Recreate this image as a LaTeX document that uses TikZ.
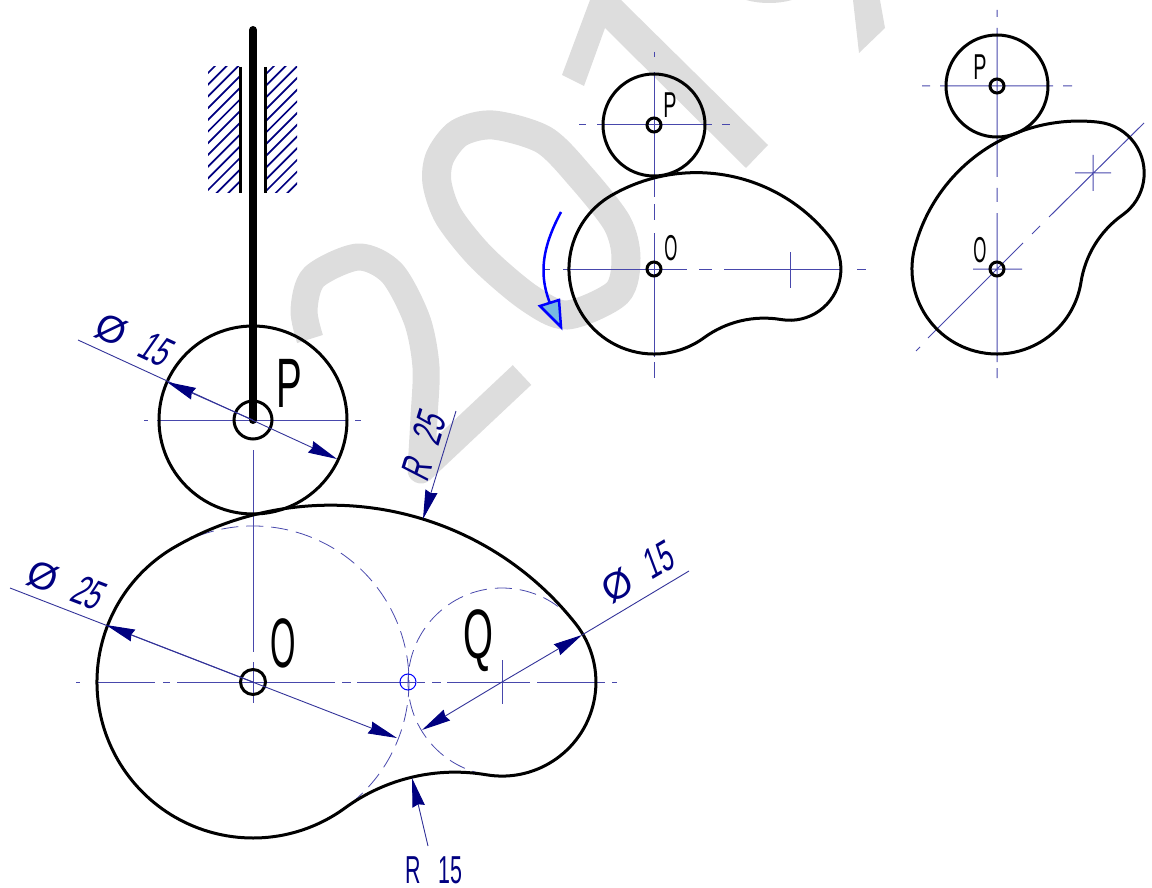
\documentclass[tikz,border=0pt]{standalone}
\usepackage{fontspec}
\setmainfont[FakeStretch=.55]{Liberation Sans}
\newfontfamily\dimfont[FakeStretch=.62,FakeSlant=.18]{Liberation Sans}
\newfontfamily\diafont{Liberation Sans}
\usetikzlibrary{arrows.meta}
\definecolor{markgray}{HTML}{DDDDDD}
\definecolor{linenavy}{RGB}{0,0,128}
\definecolor{centreblue}{RGB}{72,72,172}
\definecolor{headfill}{RGB}{120,185,225}

\newcommand{\camoutline}{
  (120:156pt) arc[start angle=120,end angle=306.1,radius=156pt]
              arc[start angle=126.1,end angle=80.4,radius=187pt]
              arc[start angle=260.4,end angle=398.3,radius=94pt]
              arc[start angle=38.3,end angle=120,radius=312pt] -- cycle}
\newcommand{\dia}{{\diafont\fontsize{38}{38}\selectfont Ø}\hspace{.4em}}

\begin{document}
\begin{tikzpicture}[x=1pt,y=-1pt,
    outline/.style={draw=black,line width=3pt},
    centre/.style={draw=centreblue,line width=1pt},
    hidden/.style={draw=centreblue,line width=.8pt,dash pattern=on 17pt off 8pt},
    dimline/.style={draw=linenavy!80!white,line width=.9pt},
    dimarrow/.style={dimline,-{Stealth[length=29pt,width=12.5pt,inset=2pt,color=linenavy]}},
    hatchline/.style={draw=linenavy,line width=1.7pt},
    partname/.style={font=\fontsize{70}{70}\selectfont,text=black,inner sep=0pt},
    smallname/.style={font=\fontsize{36}{36}\selectfont,text=black,inner sep=0pt},
    dimtext/.style={font=\dimfont\fontsize{42}{42}\selectfont,text=linenavy,inner sep=0pt}]
  \useasboundingbox (0,0) rectangle (1152,888);

  % watermark
  \draw[markgray,line width=27pt,line join=round] plot[smooth] coordinates
    {(310,339) (304,310) (314,277) (358,257) (392,273) (417,320) (426,367) (424,417) (421,470)}
    -- (522,375);
  \draw[markgray,line width=29pt] plot[smooth cycle] coordinates
    {(437,183) (449,217) (482,258) (529,298) (567,315) (617,293) (626,258) (617,223)
     (581,177) (544,140) (493,125) (459,133) (440,157)};
  \fill[markgray] (562,75) -- (590,0) -- (621,0) -- (768,145) -- (746,168) -- (605,28) -- (584,86) -- cycle;
  \fill[markgray] (853,0) -- (880,0) -- (885,28) -- (859,53) -- cycle;
  \fill[markgray] (746,0) .. controls (760,4) and (778,4) .. (792,0) -- cycle;

  % guide
  \begin{scope}
    \clip (208,67) rectangle (240,193);
    \foreach \k in {0,...,13}
      \draw[hatchline] ({281+11.7*\k-200},200) -- ({281+11.7*\k},0);
  \end{scope}
  \begin{scope}
    \clip (265,67) rectangle (297,193);
    \foreach \k in {0,...,13}
      \draw[hatchline] ({340+11.7*\k-200},200) -- ({340+11.7*\k},0);
  \end{scope}
  \draw[black,line width=3pt] (240,67) -- (240,193) (265,67) -- (265,193);

  % main view
  \coordinate (O) at (253,682);
  \coordinate (Q) at (502,682);
  \coordinate (P) at (253,420);
  \coordinate (T) at (408,682);

  \draw[centre] (76,682) -- (80,682) (96,682) -- (155,682) (163,682) -- (170,682)
    (177,682) -- (335,682) (342,682) -- (351,682) (357,682) -- (416,682)
    (417,682) -- (425,682) (432,682) -- (441,682) (447,682) -- (530,682)
    (537,682) -- (605,682) (612,682) -- (617,682)
    (253,450) -- (253,652) (253,662) -- (253,703) (502,660) -- (502,704)
    (408,672) -- (408,682)
    (144,420) -- (148,420) (157,420) -- (347,420) (355,420) -- (361,420);
  \draw[hidden] (O) ++(120:156pt) arc[start angle=120,end angle=-53.9,radius=156pt];
  \draw[hidden] (Q) ++(38.3:94pt) arc[start angle=38.3,end angle=260.4,radius=94pt];
  \draw[blue,line width=1pt] (T) circle[radius=8pt];

  \begin{scope}[shift={(O)}]
    \draw[outline] \camoutline;
  \end{scope}
  \draw[outline] (P) circle[radius=94pt];
  \draw[outline] (P) circle[radius=19pt];
  \draw[outline] (O) circle[radius=12.5pt];
  \draw[black,line width=8pt,line cap=round] (253,30) -- (P);

  \node[partname] (labelP) at (289,383) {P};
  \node[partname,xscale=.85] (labelO) at (283,643) {O};
  \node[partname] (labelQ) at (478,641) {Q};

  % dimensions
  \coordinate (pfar) at (78,340);
  \coordinate (ptip) at (167,382);
  \coordinate (pend) at (337,459);
  \draw[dimarrow] (pfar) -- (pend);
  \draw[dimarrow] (P) -- (ptip);
  \node[dimtext,rotate=-24.7] (dimP) at (133,339) {\dia 15};

  \coordinate (ofar) at (10,588);
  \coordinate (otip) at (106,625);
  \coordinate (oend) at (397,738);
  \draw[dimarrow] (ofar) -- (oend);
  \draw[dimarrow] (O) -- (otip);
  \node[dimtext,rotate=-21] (dimO) at (65,584) {\dia 25};

  \coordinate (qfar) at (689,571);
  \coordinate (qtip) at (582,635);
  \coordinate (qend) at (422,730);
  \draw[dimline] (qfar) -- (qtip);
  \draw[dimarrow] (Q) -- (qtip);
  \draw[dimarrow] (Q) -- (qend);
  \node[dimtext,rotate=30.8] (dimQ) at (637,573) {\dia 15};

  \coordinate (rtfar) at (456,411);
  \coordinate (rttip) at (423,519);
  \draw[dimarrow] (rtfar) -- (rttip);
  \node[dimtext,rotate=73] (dimRT) at (423,447) {R\hspace{.45em}25};

  \coordinate (rbfar) at (428,846);
  \coordinate (rbtip) at (412,778);
  \draw[dimarrow] (rbfar) -- (rbtip);
  \node[dimtext,font=\fontsize{39}{39}\selectfont] (dimRB) at (434,870) {R\hspace{.45em}15};

  % second view
  \coordinate (O2) at (654,269);
  \coordinate (Q2) at (790,269);
  \coordinate (P2) at (654,125);
  \draw[centre] (654,52) -- (654,57) (654,72) -- (654,197) (654,204) -- (654,220)
    (654,233) -- (654,357) (654,362) -- (654,378)
    (579,125) -- (586,125) (597,125) -- (712,125) (722,125) -- (730,125)
    (545,269) -- (550,269) (563,269) -- (687,269) (699,269) -- (712,269)
    (724,269) -- (842,269) (857,269) -- (866,269)
    (790,252) -- (790,288);
  \begin{scope}[shift={(O2)},scale=.545]
    \draw[outline] \camoutline;
  \end{scope}
  \draw[outline] (P2) circle[radius=51pt];
  \draw[outline] (P2) circle[radius=7pt];
  \draw[outline] (O2) circle[radius=7pt];
  \node[smallname] (labelP2) at (670,105) {P};
  \node[smallname,xscale=.85] (labelO2) at (671,248) {O};

  % direction of rotation
  \coordinate (turnA) at (561,212);
  \coordinate (turnB) at (559,322);
  \draw[blue,line width=2.5pt] (turnA) .. controls (538,255) and (538,285) .. (turnB);
  \draw[blue,line width=2.5pt,fill=headfill,line join=miter] (540,306) -- (559,300) -- (561,327) -- cycle;

  % third view
  \coordinate (O3) at (997,269);
  \coordinate (Q3) at (1094,173);
  \coordinate (P3) at (997,86);
  \draw[centre] (997,10) -- (997,17) (997,28) -- (997,177) (997,188) -- (997,202)
    (997,213) -- (997,362) (997,368) -- (997,378)
    (922,86) -- (930,86) (940,86) -- (1053,86) (1063,86) -- (1072,86)
    (973,269) -- (1022,269)
    (1144,123) -- (1049,217) (1040,226) -- (1032,234) (1023,243) -- (928,338)
    (920,347) -- (916,351)
    (1075,173) -- (1111,173) (1093,155) -- (1093,191);
  \begin{scope}[shift={(O3)},rotate=45,scale=.545]
    \draw[outline] \camoutline;
  \end{scope}
  \draw[outline] (P3) circle[radius=51pt];
  \draw[outline] (P3) circle[radius=7pt];
  \draw[outline] (O3) circle[radius=7pt];
  \node[smallname] (labelP3) at (980,67) {P};
  \node[smallname,xscale=.85] (labelO3) at (980,250) {O};
\end{tikzpicture}
\end{document}
